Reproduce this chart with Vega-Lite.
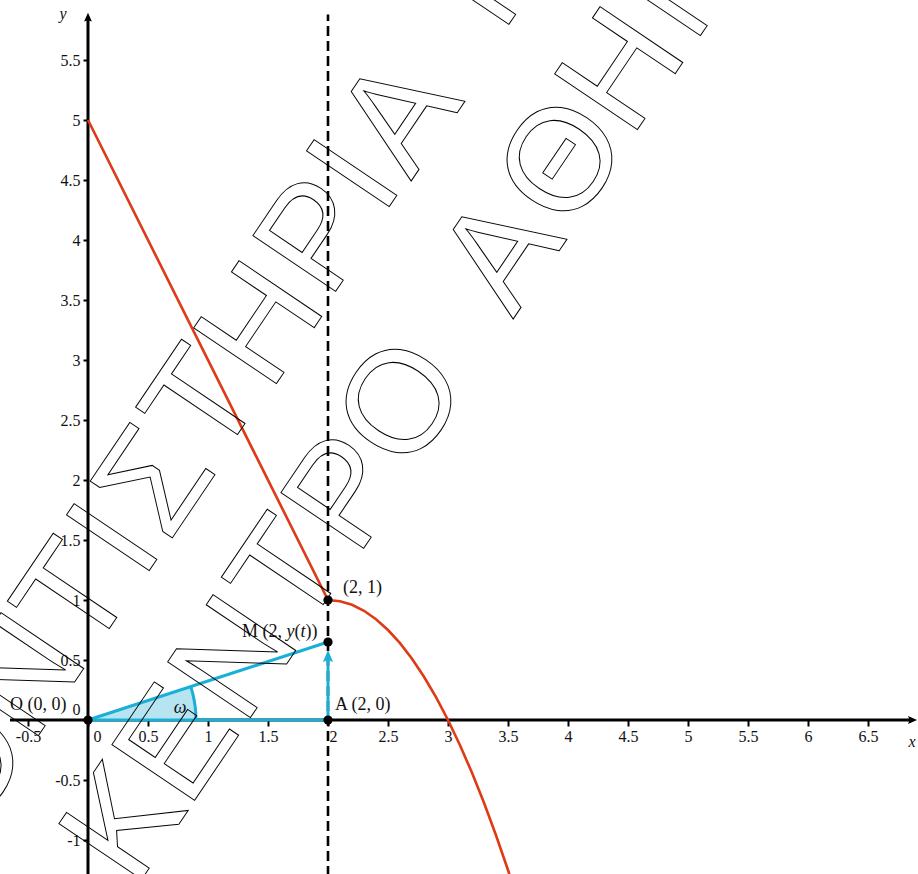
{
"$schema":"https://vega.github.io/schema/vega-lite/v6.json",
"width":918,"height":874,"autosize":{"type":"none"},"padding":0,"background":"white",
"config":{"view":{"stroke":null}},
"datasets":{
 "axes":[{"x":-0.65,"y":0,"x2":6.85,"y2":0},{"x":0,"y":-1.3,"x2":0,"y2":5.85}],
 "xarrow":[{"x":6.862,"y":0}],
 "yarrow":[{"x":0,"y":5.848}],
 "wedge":[{"x":0,"y":0},{"x":0.856,"y":0.278},{"x":0.865,"y":0.249},{"x":0.875,"y":0.211},{"x":0.885,"y":0.164},{"x":0.893,"y":0.112},{"x":0.898,"y":0.06},{"x":0.9,"y":0}],
 "arc":[{"x":0.856,"y":0.278},{"x":0.865,"y":0.249},{"x":0.875,"y":0.211},{"x":0.885,"y":0.164},{"x":0.893,"y":0.112},{"x":0.898,"y":0.06},{"x":0.9,"y":0}],
 "dashed":[{"x":2,"y":-1.3,"x2":2,"y2":5.88}],
 "red":[{"x":0,"y":5},{"x":2,"y":1},{"x":2.1,"y":0.99},{"x":2.2,"y":0.96},{"x":2.3,"y":0.91},{"x":2.4,"y":0.84},{"x":2.5,"y":0.75},{"x":2.6,"y":0.64},{"x":2.7,"y":0.51},{"x":2.8,"y":0.36},{"x":2.9,"y":0.19},{"x":3.0,"y":0},{"x":3.1,"y":-0.21},{"x":3.2,"y":-0.44},{"x":3.3,"y":-0.69},{"x":3.4,"y":-0.96},{"x":3.5,"y":-1.25},{"x":3.6,"y":-1.56}],
 "blue":[{"x":0,"y":0,"x2":2,"y2":0.65},{"x":0,"y":0,"x2":2,"y2":0},{"x":2,"y":0,"x2":2,"y2":0.5}],
 "barrow":[{"x":2,"y":0.521}],
 "pts":[{"x":0,"y":0},{"x":2,"y":0},{"x":2,"y":0.65},{"x":2,"y":1}],
 "labels":[{"x":-0.65,"y":0.129,"t":"O (0, 0)"},{"x":2.125,"y":1.1,"t":"(2, 1)"},{"x":2.058,"y":0.121,"t":"A (2, 0)"}],
 "mpos":[{"x":1.283,"y":0.7375}],
 "omega":[{"x":0.767,"y":0.1,"t":"ω"}],
 "titles":[{"x":-0.208,"y":5.883,"t":"y"},{"x":6.867,"y":-0.183,"t":"x"}],
 "wm":[
  {"x":-2.45,"y":-2.05,"c":"Φ"},{"x":-1.542,"y":-1.025,"c":"Ρ"},{"x":-1.075,"y":-0.35,"c":"Ο"},{"x":-0.583,"y":0.392,"c":"Ν"},{"x":-0.15,"y":1.05,"c":"Τ"},{"x":0.183,"y":1.533,"c":"Ι"},{"x":0.517,"y":2.017,"c":"Σ"},{"x":0.917,"y":2.667,"c":"Τ"},{"x":1.4,"y":3.325,"c":"Η"},{"x":1.875,"y":4.067,"c":"Ρ"},{"x":2.183,"y":4.567,"c":"Ι"},{"x":2.558,"y":5.067,"c":"Α"},{"x":3.375,"y":6.375,"c":"Μ"},
  {"x":0.258,"y":-0.833,"c":"Κ"},{"x":0.7,"y":-0.175,"c":"Ε"},{"x":1.183,"y":0.542,"c":"Ν"},{"x":1.633,"y":1.25,"c":"Τ"},{"x":2.108,"y":1.925,"c":"Ρ"},{"x":2.575,"y":2.667,"c":"Ο"},{"x":3.408,"y":3.917,"c":"Α"},{"x":3.917,"y":4.683,"c":"Θ"},{"x":4.408,"y":5.442,"c":"Η"},{"x":4.933,"y":6.225,"c":"Ν"},{"x":5.42,"y":6.95,"c":"Α"}
 ]
},
"encoding":{
 "x":{"field":"x","type":"quantitative","title":null,
  "scale":{"domain":[-0.7333,6.9167],"nice":false,"zero":false},
  "axis":{"orient":"bottom","offset":-154,"domain":false,"grid":false,"title":null,
   "values":[-0.5,0,0.5,1,1.5,2,2.5,3,3.5,4,4.5,5,5.5,6,6.5],
   "tickSize":6,"tickWidth":2,"tickColor":"black",
   "labelFont":"Liberation Serif","labelFontSize":16,"labelColor":"#111","labelPadding":2,
   "labelFlush":false,"labelOverlap":false,"labelBound":false,
   "labelExpr":"'' + datum.value",
   "labelOffset":{"condition":[{"test":"datum.value == 0","value":9},{"test":"datum.value == 2","value":5}],"value":0}}},
 "y":{"field":"y","type":"quantitative","title":null,
  "scale":{"domain":[-1.2833,6.0],"nice":false,"zero":false},
  "axis":{"orient":"left","offset":-88,"domain":false,"grid":false,"title":null,
   "values":[-1,-0.5,0,0.5,1,1.5,2,2.5,3,3.5,4,4.5,5,5.5],
   "tickSize":5,"tickWidth":2,"tickColor":"black",
   "labelFont":"Liberation Serif","labelFontSize":16,"labelColor":"#111","labelPadding":3,
   "labelFlush":false,"labelOverlap":false,"labelBound":false,
   "labelExpr":"'' + datum.value",
   "labelOffset":{"condition":{"test":"datum.value == 0","value":-11},"value":0}}}
},
"layer":[
 {"data":{"name":"axes"},"mark":{"type":"rule","color":"black","strokeWidth":3},"encoding":{"x2":{"field":"x2"},"y2":{"field":"y2"}}},
 {"data":{"name":"xarrow"},"mark":{"type":"point","shape":"M1,0L-0.6,0.7L-0.35,0L-0.6,-0.7Z","filled":true,"color":"black","size":125,"opacity":1,"strokeWidth":0}},
 {"data":{"name":"yarrow"},"mark":{"type":"point","shape":"M0,-1L0.7,0.6L0,0.35L-0.7,0.6Z","filled":true,"color":"black","size":125,"opacity":1,"strokeWidth":0}},
 {"data":{"name":"wedge"},"mark":{"type":"area","color":"#b7e4f1","opacity":1},"encoding":{"y2":{"datum":0}}},
 {"data":{"name":"dashed"},"mark":{"type":"rule","color":"black","strokeWidth":2.6,"strokeDash":[10,5]},"encoding":{"x2":{"field":"x2"},"y2":{"field":"y2"}}},
 {"data":{"name":"red"},"mark":{"type":"line","color":"#de3a14","strokeWidth":2.6,"clip":true}},
 {"data":{"name":"blue"},"mark":{"type":"rule","color":"#1aafd6","strokeWidth":3},"encoding":{"x2":{"field":"x2"},"y2":{"field":"y2"}}},
 {"data":{"name":"arc"},"mark":{"type":"line","color":"#1aafd6","strokeWidth":3}},
 {"data":{"name":"barrow"},"mark":{"type":"point","shape":"M0,-1L0.67,0.6L0,0.35L-0.67,0.6Z","filled":true,"color":"#1aafd6","size":225,"opacity":1,"strokeWidth":0}},
 {"data":{"name":"pts"},"mark":{"type":"point","filled":true,"color":"black","size":85,"opacity":1}},
 {"data":{"name":"labels"},"mark":{"type":"text","font":"Liberation Serif","fontSize":18,"color":"#111","align":"left","baseline":"middle"},"encoding":{"text":{"field":"t"}}},
 {"data":{"name":"mpos"},"mark":{"type":"text","text":"M (2,","font":"Liberation Serif","fontSize":18,"color":"#111","align":"left","baseline":"middle"}},
 {"data":{"name":"mpos"},"mark":{"type":"text","text":"y","font":"Liberation Serif","fontStyle":"italic","fontSize":18,"color":"#111","align":"left","baseline":"middle","dx":44.5}},
 {"data":{"name":"mpos"},"mark":{"type":"text","text":"(","font":"Liberation Serif","fontSize":18,"color":"#111","align":"left","baseline":"middle","dx":52.5}},
 {"data":{"name":"mpos"},"mark":{"type":"text","text":"t","font":"Liberation Serif","fontStyle":"italic","fontSize":18,"color":"#111","align":"left","baseline":"middle","dx":58.5}},
 {"data":{"name":"mpos"},"mark":{"type":"text","text":"))","font":"Liberation Serif","fontSize":18,"color":"#111","align":"left","baseline":"middle","dx":63.5}},
 {"data":{"name":"omega"},"mark":{"type":"text","font":"Liberation Serif","fontStyle":"italic","fontSize":18,"color":"#111","align":"center","baseline":"middle"},"encoding":{"text":{"field":"t"}}},
 {"data":{"name":"titles"},"mark":{"type":"text","font":"Liberation Serif","fontStyle":"italic","fontSize":16,"color":"#111","align":"center","baseline":"middle"},"encoding":{"text":{"field":"t"}}},
 {"data":{"name":"wm"},"mark":{"type":"text","font":"Liberation Sans","fontSize":145,"angle":304,"fill":"transparent","stroke":"black","strokeWidth":1,"align":"center","baseline":"middle","dy":8,"clip":true},"encoding":{"text":{"field":"c"}}}
]
}
